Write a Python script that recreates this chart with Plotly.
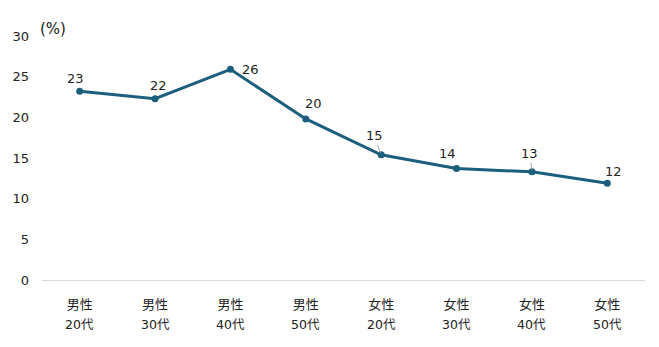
import plotly.graph_objects as go

# Share (%) by gender and age group
genders = ["男性", "男性", "男性", "男性", "女性", "女性", "女性", "女性"]
ages = ["20代", "30代", "40代", "50代", "20代", "30代", "40代", "50代"]
values = [23.2, 22.3, 25.9, 19.8, 15.4, 13.7, 13.3, 11.9]
y_ticks = [0, 5, 10, 15, 20, 25, 30]

# label offsets (px) relative to each point, and whether a leader line is drawn
label_dx = [-4, 3, 20, 8, -7, -9, -2, 6]
label_dy = [-13, -13, 0, -15, -19, -15, -18, -12]
leader = [False, False, False, False, True, False, True, False]

LINE_COLOR = "#1c5e7e"
FONT = "DejaVu Sans, Noto Sans CJK JP, sans-serif"
TEXT_COLOR = "#222222"

x_idx = list(range(len(values)))

fig = go.Figure()
fig.add_trace(go.Scatter(
    x=x_idx, y=values, mode="lines+markers",
    line=dict(color=LINE_COLOR, width=3),
    marker=dict(color=LINE_COLOR, size=7),
    hoverinfo="skip", showlegend=False,
))

annotations = []
for i, v in enumerate(values):
    if leader[i]:
        annotations.append(dict(
            x=i, y=v, xref="x", yref="y", text=f"{v:.0f}",
            showarrow=True, arrowhead=0, arrowwidth=1, arrowcolor="#a6a6a6",
            ax=label_dx[i], ay=label_dy[i], standoff=2, startstandoff=0,
            font=dict(family=FONT, size=13, color=TEXT_COLOR),
        ))
    else:
        annotations.append(dict(
            x=i, y=v, xref="x", yref="y", text=f"{v:.0f}",
            showarrow=False, xshift=label_dx[i], yshift=-label_dy[i],
            font=dict(family=FONT, size=13, color=TEXT_COLOR),
        ))

# second line of the category labels
for i, a in enumerate(ages):
    annotations.append(dict(
        x=i, y=0, xref="x", yref="y", text=a, showarrow=False,
        yshift=-44, yanchor="middle",
        font=dict(family=FONT, size=12.5, color=TEXT_COLOR),
    ))

# unit label, placed in pixels via paper coordinates
plot_w = 659 - 42 - 14
plot_h = 347 - 36 - 67
annotations.append(dict(
    x=(53 - 42) / plot_w, y=(347 - 67 - 29) / plot_h,
    xref="paper", yref="paper", text="(%)", showarrow=False,
    xanchor="center", yanchor="middle",
    font=dict(family=FONT, size=15, color=TEXT_COLOR),
))

fig.update_layout(
    width=659, height=347,
    margin=dict(l=42, r=14, t=36, b=67),
    paper_bgcolor="white", plot_bgcolor="white",
    font=dict(family=FONT, size=13, color=TEXT_COLOR),
    annotations=annotations,
    xaxis=dict(
        range=[-0.5, len(values) - 0.5],
        tickvals=x_idx, ticktext=genders,
        tickfont=dict(family=FONT, size=13, color=TEXT_COLOR),
        showgrid=False, zeroline=False,
        showline=True, linecolor="#d9d9d9", linewidth=1,
        ticks="", ticklabelstandoff=12,
    ),
    yaxis=dict(
        range=[0, 30], tickvals=y_ticks,
        showgrid=False, zeroline=False, showline=False,
        ticks="", ticklabelstandoff=12,
        tickfont=dict(family=FONT, size=13, color=TEXT_COLOR),
    ),
)

fig.write_html("out.html")
